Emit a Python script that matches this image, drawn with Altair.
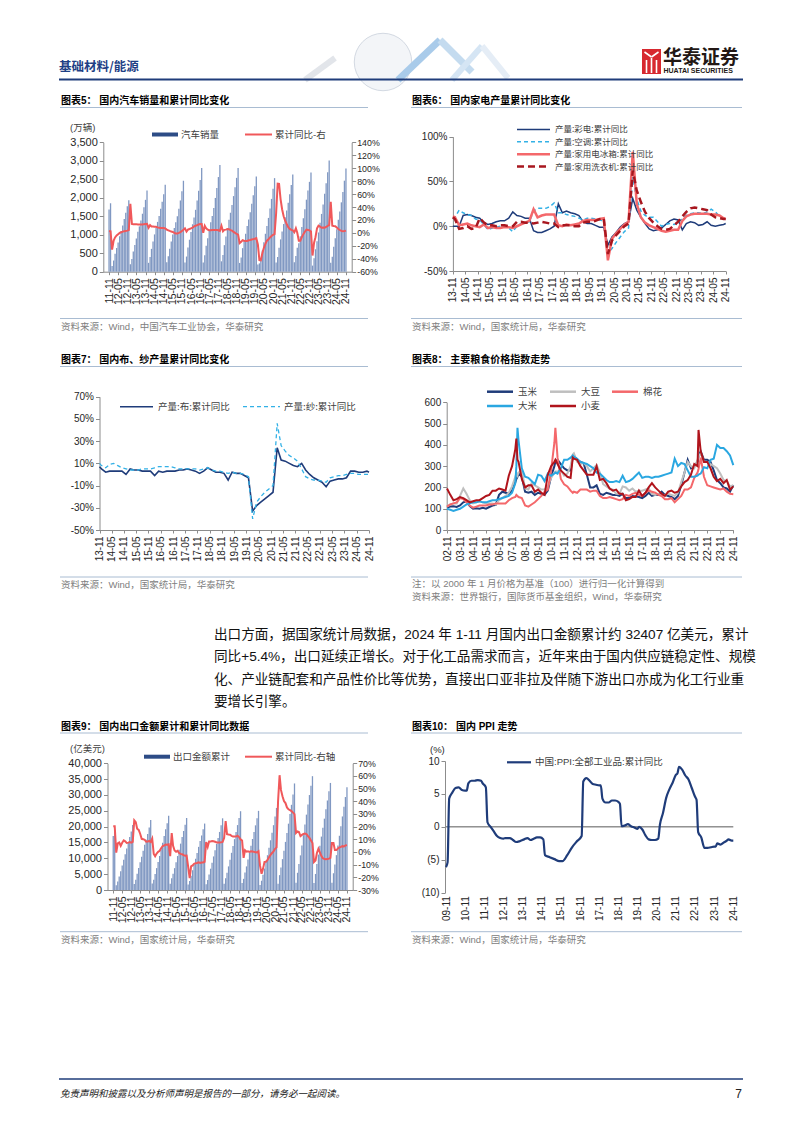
import altair as alt
import pandas as pd

W, H = 786, 1117
OX, OY = 8, 8

CJK = "Noto Sans CJK SC"
LAT = "Liberation Sans"
MIX = "Liberation Sans, Noto Sans CJK SC"

AX = "#8C8C8C"
LBL = "#262626"
RULE = "#A9BCD2"
SRC = "#808080"
LEG = "#404040"
NAVY = "#1F3C7A"
HDR_BLUE = "#1E3F85"
RED = "#F0585A"
BAR = "#8098C2"
BAR_LEG = "#2D4C86"
LBLUE = "#33B1E6"
SALMON = "#F4686B"
DRED = "#A8171F"
GRAY = "#BFBFBF"
RICE = "#2AA7E1"
WHEAT = "#B0141C"

# ---------------------------------------------------------------- data
# 图表5 汽车销量累计（万辆）2011-11 .. 2024-11 and 累计同比 (%)
c5_sales = [
    1684, 1851,
    151, 302, 486, 641, 792, 960, 1098, 1251, 1424, 1592, 1769, 1931,
    203, 343, 546, 723, 899, 1078, 1226, 1385, 1568, 1744, 1944, 2198,
    240, 398, 618, 817, 1009, 1187, 1347, 1506, 1700, 1892, 2096, 2349,
    253, 419, 618, 818, 1007, 1185, 1336, 1502, 1704, 1927, 2177, 2460,
    251, 410, 653, 865, 1074, 1283, 1467, 1674, 1929, 2189, 2483, 2803,
    252, 446, 700, 908, 1110, 1335, 1505, 1724, 1995, 2263, 2560, 2888,
    281, 453, 718, 949, 1178, 1406, 1595, 1805, 2045, 2283, 2538, 2808,
    237, 385, 637, 835, 1026, 1233, 1413, 1610, 1837, 2066, 2311, 2577,
    194, 225, 368, 575, 794, 1026, 1237, 1455, 1712, 1969, 2247, 2531,
    250, 396, 649, 874, 1087, 1289, 1475, 1654, 1862, 2096, 2348, 2628,
    253, 427, 650, 769, 956, 1206, 1448, 1687, 1948, 2198, 2431, 2686,
    165, 362, 607, 823, 1061, 1324, 1563, 1821, 2107, 2392, 2689, 3009,
    244, 403, 672, 907, 1149, 1405, 1631, 1876, 2157, 2462, 2794,
]
c5_yoy = [
    3.0, 2.5,
    -26, -12, -7, -4, -2, 0, 1, 2, 2.5, 3, 3.5, 4.3,
    45, 14, 13.5, 13.5, 13.5, 13, 13, 13, 13, 13.5, 13.8, 13.9,
    8, 12, 10, 10, 9.5, 9.5, 8.5, 8, 7.5, 7.5, 7.5, 6.9,
    5, 4, 3, 2, 1.5, 0, -0.8, -0.8, 0, 1, 3, 4.7,
    7, 2, 5, 6, 7, 8, 10, 11, 12, 13, 13.8, 13.7,
    0.2, 11, 7, 5, 4, 4, 4.5, 4.5, 4.5, 4.5, 4, 3,
    11, 2.5, 4.7, 5, 5.8, 5.6, 4.2, 3.5, 1.5, 0.1, -1.7, -2.8,
    -15.8, -13.8, -11.3, -12.1, -12.4, -12.4, -11.4, -11, -10.3, -9.7, -9.1, -8.2,
    -18, -42, -42.4, -31, -23, -17, -12, -10, -7, -5, -3, -1.9,
    30, 76, 75.6, 51.8, 36.6, 25.6, 19, 13.7, 8.7, 6.1, 4.6, 3.8,
    0.9, 7.2, 0.1, -12.1, -12.2, -6.6, -2, 1.8, 5.1, 4.6, 3.8, 2.1,
    -35, -15.2, -6.7, 7.1, 11.1, 9.8, 7.9, 8.2, 8, 9.1, 10.8, 12,
    47.9, 11.1, 10.6, 10.2, 8.3, 6.1, 4.4, 3, 2.4, 2.7, 3.5,
]

# 图表6 家电产量累计同比 (%), dates 2013-11, 2013-12, then even months .. 2024-10, 2024-11
c6_tv = [0, 0,
         0, 12, 13, 12, 10, 9,
         4, 2, 3, 5, 6, 6,
         9, 16, 12, 11, 9, 9,
         -5, -7, -7, -5, -3, 0,
         25, 15, 17, 15, 14, 12,
         5, 3, 3, 1, -1, -1,
         -21, -12, -7, -1, 3, 5,
         31, 18, 10, 3, -3, -5,
         -4, -2, 2, 6, 8, 7,
         -4, 3, 5, 4, 1, 2,
         5, 1, 0, 1, 2, 3]
c6_ac = [8, 10,
         18, 15, 13, 12, 8, 7,
         2, -4, -2, -1, 0, 1,
         -2, -6, 0, 3, 4, 5,
         17, 20, 20, 20, 22, 26,
         15, 15, 13, 12, 11, 9,
         7, 9, 9, 8, 7, 6,
         -30, -25, -18, -12, -6, -2,
         55, 30, 17, 12, 10, 10,
         5, 0, 2, 3, 2, 3,
         9, 12, 14, 15, 15, 14,
         16, 19, 16, 11, 8, 8]
c6_fridge = [11, 10,
             1, 2, 3, 1, 0, -1,
             2, -2, -1, -2, -2, -1,
             -1, -2, 0, 2, 4, 6,
             19, 10, 12, 13, 13, 13,
             1, 0, 2, 1, 2, 3,
             6, 7, 7, 7, 8, 9,
             -38, -14, -8, -3, 2, 5,
             83, 25, 10, 4, 1, -1,
             -3, -5, -6, -5, -4, -4,
             6, 11, 13, 14, 14, 14,
             14, 13, 13, 12, 9, 8]
c6_washer = [10, 8,
             -3, -2, 0, -3, -2, 9,
             4, 1, 1, 0, 1, 1,
             0, 0, 5, 5, 4, 4,
             3, 4, 5, 4, 3, 3,
             -1, 1, 1, 1, 0, 0,
             4, 5, 5, 6, 8, 9,
             -31, -16, -10, -5, 0, 3,
             62, 40, 27, 16, 9, 4,
             0, -3, -4, -3, 1, 5,
             11, 16, 20, 21, 20, 19,
             18, 13, 10, 9, 8, 8]

# 图表7 布、纱产量累计同比 (%), same dates as 图表6
c7_cloth = [7, 5,
            2, 3, 3, 3, 3, 0,
            5, 4, 4, 3, 3, 3,
            -1, 3, 2, 3, 3, 3,
            4, 4, 5, 4, 3, 1,
            3, 6, 4, 2, 2, 1,
            -5, 2, 1, 1, -1, -3,
            -33, -28, -25, -22, -19, -16,
            24, 13, 12, 10, 8, 7,
            10, 4, 0, -3, -5, -7,
            -11, -6, -5, -4, -4, -3,
            3, 3, 2, 2, 3, 2]
c7_yarn = [10, 8,
           6, 9, 10, 8, 6, 5,
           4, 4, 4, 5, 5, 5,
           6, 7, 7, 7, 7, 6,
           5, 5, 5, 5, 5, 4,
           5, 6, 4, 3, 3, 2,
           1, 2, 1, 1, 0, -2,
           -40, -25, -20, -16, -13, -10,
           46, 26, 21, 17, 15, 12,
           5, -2, -4, -5, -5, -6,
           -7, -3, -2, -1, -1, 0,
           1, 1, 0, 0, 0, 0]

# 图表8 主要粮食价格指数
c8_dates = ["2002-11", "2003-02", "2003-05", "2003-08", "2003-11", "2004-02", "2004-05", "2004-08",
            "2004-11", "2005-02", "2005-05", "2005-08", "2005-11", "2006-02", "2006-05", "2006-08",
            "2006-11", "2007-02", "2007-05", "2007-08", "2007-11", "2008-02", "2008-03", "2008-04",
            "2008-05", "2008-08", "2008-11", "2009-02", "2009-05", "2009-08", "2009-11", "2010-02",
            "2010-05", "2010-08", "2010-11", "2011-02", "2011-03", "2011-05", "2011-08", "2011-11",
            "2012-02", "2012-05", "2012-07", "2012-08", "2012-11", "2013-02", "2013-05", "2013-08",
            "2013-11", "2014-02", "2014-05", "2014-08", "2014-11", "2015-02", "2015-05", "2015-08",
            "2015-11", "2016-02", "2016-05", "2016-08", "2016-11", "2017-02", "2017-05", "2017-08",
            "2017-11", "2018-02", "2018-05", "2018-08", "2018-11", "2019-02", "2019-05", "2019-08",
            "2019-11", "2020-02", "2020-05", "2020-08", "2020-11", "2021-02", "2021-05", "2021-08",
            "2021-11", "2022-02", "2022-03", "2022-05", "2022-08", "2022-11", "2023-02", "2023-05",
            "2023-08", "2023-11", "2024-02", "2024-05", "2024-08", "2024-11"]
c8_corn = [105, 110, 112, 108, 115, 130, 135, 112, 100, 102,
           100, 104, 100, 108, 115, 118, 165, 180, 175, 170,
           185, 225, 240, 250, 265, 250, 180, 175, 180, 165,
           175, 170, 165, 185, 250, 300, 320, 330, 310, 290,
           280, 280, 340, 350, 330, 320, 315, 260, 200, 200,
           210, 170, 165, 175, 170, 165, 165, 160, 170, 150,
           150, 160, 158, 155, 150, 160, 175, 160, 165, 165,
           180, 165, 160, 155, 145, 160, 210, 270, 330, 290,
           300, 320, 345, 370, 330, 330, 320, 280, 235, 220,
           200, 195, 180, 210]
c8_soy = [110, 120, 125, 125, 160, 195, 170, 140, 125, 130,
          135, 130, 125, 125, 125, 120, 140, 150, 160, 175,
          205, 250, 265, 255, 270, 280, 195, 190, 220, 210,
          200, 190, 190, 205, 245, 270, 275, 275, 280, 255,
          265, 300, 355, 360, 320, 310, 315, 300, 275, 290,
          305, 270, 215, 205, 195, 190, 170, 170, 205, 200,
          185, 195, 180, 185, 185, 190, 195, 170, 165, 170,
          160, 165, 170, 165, 160, 175, 225, 270, 320, 300,
          290, 330, 345, 360, 320, 320, 310, 300, 290, 265,
          235, 230, 205, 210]
c8_cotton = [110, 120, 125, 130, 150, 145, 130, 115, 105, 110,
             115, 115, 115, 120, 120, 125, 125, 125, 125, 140,
             150, 155, 165, 160, 155, 150, 115, 110, 120, 130,
             145, 160, 180, 190, 280, 410, 480, 340, 240, 215,
             205, 185, 175, 180, 175, 190, 190, 190, 180, 185,
             185, 160, 150, 150, 155, 150, 145, 140, 145, 165,
             160, 170, 175, 165, 160, 175, 185, 180, 175, 165,
             160, 145, 145, 150, 130, 145, 160, 190, 190, 200,
             245, 270, 285, 340, 250, 210, 205, 200, 195, 190,
             195, 180, 170, 168]
c8_rice = [100, 95, 90, 95, 100, 110, 120, 125, 130, 130,
           135, 130, 130, 135, 140, 140, 145, 150, 155, 160,
           175, 220, 300, 480, 420, 290, 250, 245, 230, 215,
           260, 255, 230, 265, 255, 265, 270, 265, 290, 330,
           330, 340, 350, 345, 335, 320, 315, 310, 300, 290,
           270, 265, 250, 235, 225, 225, 230, 225, 255, 225,
           230, 240, 255, 270, 245, 250, 250, 245, 250, 250,
           255, 260, 265, 270, 335, 300, 315, 310, 280, 250,
           250, 255, 260, 265, 295, 290, 330, 335, 400, 385,
           385, 370, 350, 305]
c8_wheat = [195, 165, 140, 145, 155, 150, 140, 130, 135, 140,
            140, 150, 160, 165, 185, 185, 195, 190, 185, 255,
            300, 380, 430, 330, 320, 240, 200, 210, 210, 180,
            190, 175, 165, 260, 300, 320, 330, 310, 280, 265,
            250, 245, 340, 335, 330, 300, 280, 260, 260, 260,
            300, 235, 240, 220, 195, 185, 190, 170, 170, 140,
            145, 155, 155, 185, 160, 175, 200, 220, 200, 185,
            170, 160, 180, 185, 175, 180, 205, 225, 235, 260,
            310, 300, 470, 370, 320, 320, 290, 250, 230, 240,
            220, 235, 190, 205]

# 图表9 出口金额累计（亿美元）2011-11 .. 2024-11 and 累计同比 (%)
c9_exports = [
    17086, 18984,
    1500, 2650, 4300, 5930, 7740, 9540, 11310, 13090, 14950, 16700, 18490, 20487,
    1873, 3266, 5091, 6962, 8791, 10531, 12391, 14298, 15858, 17709, 19728, 22090,
    2071, 3211, 5024, 6911, 8868, 10732, 12851, 14935, 17082, 19149, 21080, 23423,
    2003, 3700, 5138, 6896, 8800, 10722, 12673, 14640, 16699, 18626, 20596, 22735,
    1772, 2869, 4514, 6242, 8057, 9867, 11711, 13619, 15457, 17214, 19154, 20976,
    1830, 3120, 4925, 6725, 8640, 10600, 12540, 14525, 16430, 18330, 20420, 22635,
    2004, 3714, 5450, 7454, 9579, 11741, 13893, 16060, 18322, 20495, 22741, 24874,
    2175, 3527, 5516, 7455, 9595, 11732, 13952, 16098, 18284, 20411, 22624, 24990,
    1600, 2927, 4780, 6787, 8850, 10984, 13357, 15701, 18097, 20466, 23189, 25900,
    2000, 4690, 7106, 9744, 12377, 15191, 17997, 20940, 23994, 26898, 30148, 33640,
    2300, 5436, 8203, 10937, 14011, 17320, 20651, 23795, 26992, 29976, 32937, 35936,
    2200, 5064, 8218, 11172, 14009, 16863, 19677, 22524, 25518, 28260, 31182, 33800,
    2300, 5287, 8081, 11005, 14031, 17120, 20135, 23221, 26260, 29351, 32407,
]
c9_yoy = [
    20.3, 20.3,
    -0.5, 6.9, 7.6, 4.9, 7.3, 9.2, 8.4, 7.1, 7.4, 7.8, 7.3, 7.9,
    25, 23.6, 18.4, 17.4, 14.4, 10.4, 10.1, 9.6, 8.1, 8.3, 8.7, 7.9,
    10.6, -1.6, -3.4, -1.2, 0.1, 0.9, 3.0, 4.7, 5.1, 5.9, 5.8, 6.1,
    -3.3, 15, 4.9, 1.2, 0.2, 0.9, -0.8, -1.5, -1.8, -2.5, -2.9, -2.8,
    -11.5, -20.6, -11.3, -10.6, -9.3, -8.8, -8.7, -8.1, -8.6, -8.3, -8.3, -7.7,
    7.9, 4, 8.2, 8.2, 8.6, 8.5, 8.1, 7.5, 7.5, 7.4, 7.6, 7.9,
    11.1, 24.4, 14.1, 13.8, 13.6, 12.8, 12.2, 12.2, 12.2, 12.9, 11.8, 9.9,
    9.1, -4.6, 1.4, 0.2, 0.5, 0.1, 0.6, 0.4, 0.1, -0.2, -0.3, 0.5,
    -11, -17.2, -13.3, -7.8, -7.7, -6.2, -4.1, -2.3, -0.8, 0.5, 2.5, 3.6,
    40, 60.6, 49, 44, 40.2, 38.6, 35.2, 33.7, 33, 32.3, 31.1, 29.9,
    15, 16.3, 15.8, 12.5, 13.5, 14.2, 14.6, 14.2, 12.5, 11.1, 9, 7,
    -8, -6.8, -0.8, 2.5, -0.3, -3.2, -5, -5.6, -5.7, -5.6, -5.2, -4.6,
    7.1, 7.1, 1.5, 1.5, 2.7, 3.6, 4, 4.6, 4.3, 5.1, 5.4,
]

# 图表10 PPI 全部工业品 累计同比 (%)
c10_dates = ["2009-11", "2009-12", "2010-01", "2010-03", "2010-05", "2010-07", "2010-09", "2010-11",
             "2010-12", "2011-01", "2011-03", "2011-05", "2011-07", "2011-09", "2011-10", "2011-12",
             "2012-01", "2012-03", "2012-05", "2012-07", "2012-09", "2012-11", "2012-12", "2013-03",
             "2013-05", "2013-07", "2013-09", "2013-12", "2014-02", "2014-04", "2014-06", "2014-08",
             "2014-10", "2014-12", "2015-01", "2015-04", "2015-07", "2015-10", "2015-12", "2016-03",
             "2016-06", "2016-09", "2016-12", "2017-01", "2017-03", "2017-05", "2017-07", "2017-09",
             "2017-11", "2017-12", "2018-01", "2018-03", "2018-05", "2018-07", "2018-09", "2018-11",
             "2018-12", "2019-01", "2019-03", "2019-05", "2019-07", "2019-09", "2019-11", "2019-12",
             "2020-02", "2020-04", "2020-06", "2020-08", "2020-10", "2020-12", "2021-01", "2021-03",
             "2021-05", "2021-07", "2021-09", "2021-11", "2021-12", "2022-01", "2022-03", "2022-05",
             "2022-07", "2022-09", "2022-11", "2022-12", "2023-01", "2023-03", "2023-05", "2023-07",
             "2023-09", "2023-11", "2023-12", "2024-01", "2024-03", "2024-05", "2024-07", "2024-08",
             "2024-10", "2024-11"]
c10_ppi = [-6.1, -5.4, 4.3, 5.2, 5.9, 6.0, 5.6, 5.5,
           5.5, 6.6, 7.0, 7.0, 7.1, 7.0, 6.6, 6.0,
           0.7, 0.0, -0.7, -1.4, -1.7, -1.8, -1.7, -1.7,
           -2.0, -2.3, -2.2, -1.9, -1.7, -2.0, -1.8, -1.6,
           -1.6, -1.9, -4.3, -4.6, -4.9, -5.2, -5.2, -4.3,
           -3.1, -2.2, -1.4, 6.9, 7.4, 7.0, 6.5, 6.4,
           6.3, 6.3, 4.3, 3.7, 3.7, 4.0, 4.0, 3.8,
           3.5, 0.1, 0.2, 0.4, 0.1, -0.1, -0.3, 0.0,
           -0.4, -1.3, -1.9, -2.0, -2.0, -1.8, 0.3, 2.1,
           4.4, 5.7, 6.7, 7.9, 8.1, 9.1, 8.7, 7.8,
           7.2, 5.9, 4.6, 4.1, -0.8, -1.6, -3.2, -3.2,
           -3.1, -3.0, -3.0, -2.5, -2.7, -2.4, -2.1, -1.9,
           -2.1, -2.1]

# text content
titles = ["图表5：  国内汽车销量和累计同比变化", "图表6：  国内家电产量累计同比变化",
          "图表7：  国内布、纱产量累计同比变化", "图表8：  主要粮食价格指数走势",
          "图表9：  国内出口金额累计和累计同比数据", "图表10：  国内 PPI 走势"]
sources = ["资料来源：Wind，中国汽车工业协会，华泰研究", "资料来源：Wind，国家统计局，华泰研究",
           "资料来源：Wind，国家统计局，华泰研究", "资料来源：世界银行，国际货币基金组织，Wind，华泰研究",
           "资料来源：Wind，国家统计局，华泰研究", "资料来源：Wind，国家统计局，华泰研究"]
para = ["出口方面，据国家统计局数据，2024 年 1-11 月国内出口金额累计约 32407 亿美元，累计",
        "同比+5.4%，出口延续正增长。对于化工品需求而言，近年来由于国内供应链稳定性、规模",
        "化、产业链配套和产品性价比等优势，直接出口亚非拉及伴随下游出口亦成为化工行业重",
        "要增长引擎。"]
leg6 = ["产量:彩电:累计同比", "产量:空调:累计同比", "产量:家用电冰箱:累计同比", "产量:家用洗衣机:累计同比"]
leg7 = ["产量:布:累计同比", "产量:纱:累计同比"]
leg8 = ["玉米", "大豆", "棉花", "大米", "小麦"]


# ---------------------------------------------------------------- helpers
def X(p):
    return p - OX


def Y(p):
    return p - OY


def months(y0, m0, y1, m1, step=1):
    out = []
    y, m = y0, m0
    while y * 12 + m <= y1 * 12 + m1:
        out.append((y, m))
        m += step
        while m > 12:
            m -= 12
            y += 1
    return out


def ds(ym):
    return f"{ym[0]}/{ym[1]:02d}/01"


def parse_ym(s):
    a, b = s.split("-")
    return int(a), int(b)


def dt(y, m, d=1):
    return alt.DateTime(year=y, month=m, date=d)


ONE = pd.DataFrame({"k": [0]})


def text(s, x, y, size, color="#000000", font=CJK, weight="normal", align="left", style="normal"):
    return alt.Chart(ONE).mark_text(text=s, fontSize=size, color=color, font=font, fontWeight=weight,
                                    align=align, baseline="middle", fontStyle=style).encode(
        x=alt.value(X(x)), y=alt.value(Y(y)))


def seg(x0, y0, x1, y1, color, width=1.0, dash=None, opacity=1.0):
    kw = dict(color=color, strokeWidth=width, opacity=opacity)
    if dash:
        kw["strokeDash"] = dash
    return alt.Chart(ONE).mark_rule(**kw).encode(
        x=alt.value(X(x0)), x2=alt.value(X(x1)), y=alt.value(Y(y0)), y2=alt.value(Y(y1)))


def hline(x0, x1, y, color, width=1.0, dash=None):
    return seg(x0, y, x1, y, color, width, dash)


def rect(x0, x1, y0, y1, color):
    return alt.Chart(ONE).mark_rect(color=color).encode(
        x=alt.value(X(x0)), x2=alt.value(X(x1)), y=alt.value(Y(y0)), y2=alt.value(Y(y1)))


def xenc(field, d0, d1, x0, x1, ypos, ticks, fs=10.5, domain=True, tick=True):
    return alt.X(f"{field}:T",
                 scale=alt.Scale(domain=[d0, d1], range=[X(x0), X(x1)], nice=False),
                 axis=alt.Axis(orient="bottom", offset=Y(ypos) - H,
                               values=[dt(y, m) for (y, m) in ticks], format="%y-%m",
                               labelAngle=270, labelFont=LAT, labelFontSize=fs, labelColor=LBL,
                               labelOverlap=False, labelFlush=False, labelPadding=3,
                               domain=domain, domainColor=AX, ticks=tick, tickColor=AX, tickSize=3,
                               grid=False, title=None))


def yenc(field, lo, hi, y0, y1, orient, xpos, values, fs=10.5, fmt=None, expr=None, pad=2):
    ax = dict(orient=orient, values=values, grid=False, title=None, domainColor=AX, tickColor=AX,
              tickSize=4, labelFont=LAT, labelFontSize=fs, labelColor=LBL, labelPadding=pad,
              labelOverlap=False)
    ax["offset"] = -X(xpos) if orient == "left" else X(xpos) - W
    if fmt:
        ax["format"] = fmt
    if expr:
        ax["labelExpr"] = expr
    return alt.Y(f"{field}:Q",
                 scale=alt.Scale(domain=[lo, hi], range=[Y(y0), Y(y1)], nice=False, zero=False),
                 axis=alt.Axis(**ax))


def line(df, xe, ye, color, width, dash=None, interp="linear"):
    kw = dict(color=color, strokeWidth=width, interpolate=interp)
    if dash:
        kw["strokeDash"] = dash
    return alt.Chart(df).mark_line(**kw).encode(x=xe, y=ye)


PCT = "datum.value + '%'"
layers = []

# ---------------------------------------------------------------- header
layers.append(alt.Chart(ONE).mark_point(shape="circle", size=3300, filled=True, color="#F3F5F8",
                                        stroke="#D3D9E2", strokeWidth=1, opacity=1).encode(
    x=alt.value(X(383)), y=alt.value(Y(62))))
layers += [
    seg(305, 80, 335, 58, "#E2E5EA", 6),
    seg(398, 80, 440, 40, "#A9CBEA", 7),
    seg(440, 40, 472, 72, "#C4DBEF", 7),
    seg(452, 80, 482, 46, "#D5E5F4", 6),
    seg(482, 46, 508, 78, "#E5EDF6", 6),
]
layers.append(text("基础材料/能源", 59, 66.5, 12.5, HDR_BLUE, CJK, "bold"))
layers.append(hline(59, 743, 79.5, NAVY, 2.2))
layers.append(rect(642, 661, 49, 74, "#D7282F"))
layers += [
    seg(646.5, 60, 646.5, 73, "#FFFFFF", 1.6),
    seg(651.5, 58, 651.5, 73, "#FFFFFF", 1.6),
    seg(656.5, 60, 656.5, 73, "#FFFFFF", 1.6),
    seg(644.5, 52, 651.5, 57, "#FFFFFF", 1.6),
    seg(658.5, 52, 651.5, 57, "#FFFFFF", 1.6),
]
layers.append(text("华泰证券", 663, 57.5, 19, "#231815", CJK, "bold"))
layers.append(text("HUATAI SECURITIES", 663.5, 70.5, 7, "#231815", LAT, "bold"))

# ---------------------------------------------------------------- panel frames
frames = [
    (61, 368, 101, 107.5, 318.5, 326.5),
    (412, 742, 101, 107.5, 318.5, 326.5),
    (61, 368, 360, 366.5, 577, 585),
    (412, 742, 360, 366.5, 577, 596.7),
    (61, 368, 726.7, 733, 931.7, 940),
    (412, 742, 726.7, 733, 931.7, 940),
]
for i, (x0, x1, ty, tr, sr, sy) in enumerate(frames):
    layers.append(text(titles[i], x0, ty, 10, "#000000", MIX, "bold"))
    layers.append(hline(x0 - 1, x1, tr, RULE, 1))
    layers.append(hline(x0 - 1, x1, sr, RULE, 1))
    layers.append(text(sources[i], x0, sy, 9.5, SRC, MIX))
layers.append(text("注：以 2000 年 1 月价格为基准（100）进行归一化计算得到", 412, 584.3, 9.5, SRC, MIX))

# ---------------------------------------------------------------- 图表5
m5 = months(2011, 11, 2024, 11)
df5 = pd.DataFrame({"date": [ds(m) for m in m5], "sales": c5_sales, "yoy": c5_yoy})
x5 = xenc("date", dt(2011, 10, 17), dt(2024, 11, 16), 103.3, 351.7, 271.7, months(2011, 11, 2024, 11, 6))
bars5 = alt.Chart(df5).mark_bar(size=1.3, color=BAR).encode(
    x=x5, y=yenc("sales", 0, 3500, 271.7, 142.3, "left", 103.3, list(range(0, 3501, 500)), fs=11,
                 fmt=",.0f"))
line5 = line(df5, x5, yenc("yoy", -60, 140, 271.7, 142.3, "right", 351.7, list(range(-60, 141, 20)),
                           fs=8.8, expr=PCT, pad=1), RED, 2)
layers.append(alt.layer(bars5, line5).resolve_scale(y="independent"))
layers.append(text("(万辆)", 70, 127.7, 9.5, LEG, MIX))
layers.append(rect(152, 178, 132.5, 136.5, BAR_LEG))
layers.append(text("汽车销量", 181, 134.5, 9.5, LEG))
layers.append(hline(245, 272, 134.5, RED, 2))
layers.append(text("累计同比-右", 275, 134.5, 9.5, LEG))

# ---------------------------------------------------------------- 图表6
grid67 = [(2013, 11), (2013, 12)] + [(y, m) for y in range(2014, 2025)
                                     for m in (2, 4, 6, 8, 10) + ((12,) if y < 2024 else (11,))]
df6 = pd.DataFrame({"date": [ds(m) for m in grid67], "tv": c6_tv, "ac": c6_ac,
                    "fr": c6_fridge, "wm": c6_washer})
x6 = xenc("date", dt(2013, 11), dt(2024, 11), 452.9, 725.7, 271, months(2013, 11, 2024, 11, 6), fs=10)


def y6(f):
    return yenc(f, -50, 100, 271, 136.7, "left", 452.9, [-50, 0, 50, 100], fs=10, expr=PCT)


p6 = alt.layer(
    line(df6, x6, y6("tv"), NAVY, 1.5),
    line(df6, x6, y6("ac"), LBLUE, 1.5, [4, 3]),
    line(df6, x6, y6("fr"), SALMON, 2.5),
    line(df6, x6, y6("wm"), DRED, 2.5, [7, 4]),
)
layers.append(p6)
leg6_style = [(NAVY, 1.5, None), (LBLUE, 1.5, [4, 3]), (SALMON, 2.5, None), (DRED, 2.5, [7, 4])]
for k, (lab, (c, w, d)) in enumerate(zip(leg6, leg6_style)):
    yy = 129.4 + 12.4 * k
    layers.append(hline(517, 550, yy, c, w, d))
    layers.append(text(lab, 555, yy, 8.5, LEG))

# ---------------------------------------------------------------- 图表7
df7 = pd.DataFrame({"date": [ds(m) for m in grid67], "cloth": c7_cloth, "yarn": c7_yarn})
x7 = xenc("date", dt(2013, 11), dt(2024, 11), 99.5, 369, 530, months(2013, 11, 2024, 11, 6), fs=10)


def y7(f):
    return yenc(f, -50, 70, 530, 396.7, "left", 99.5, list(range(-50, 71, 20)), fs=10, expr=PCT)


layers.append(alt.layer(line(df7, x7, y7("cloth"), NAVY, 1.6),
                        line(df7, x7, y7("yarn"), LBLUE, 1.3, [4, 3])))
layers.append(hline(120, 153, 406.7, NAVY, 1.6))
layers.append(text(leg7[0], 158, 406.7, 9.5, LEG))
layers.append(hline(243, 280, 406.7, LBLUE, 1.3, [4, 3]))
layers.append(text(leg7[1], 284, 406.7, 9.5, LEG))

# ---------------------------------------------------------------- 图表8
df8 = pd.DataFrame({"date": [ds(parse_ym(s)) for s in c8_dates], "corn": c8_corn, "soy": c8_soy,
                    "cotton": c8_cotton, "rice": c8_rice, "wheat": c8_wheat})
x8 = xenc("date", dt(2002, 11), dt(2024, 11), 447, 733.3, 530, months(2002, 11, 2024, 11, 12), fs=10)


def y8(f):
    return yenc(f, 0, 600, 530, 402.3, "left", 446.7, list(range(0, 601, 100)), fs=10)


c8_styles = [("corn", NAVY), ("soy", GRAY), ("cotton", SALMON), ("rice", RICE), ("wheat", WHEAT)]
layers.append(alt.layer(*[line(df8, x8, y8(f), c, 2) for f, c in c8_styles]))
leg8_pos = [(487, 391.7), (550, 391.7), (612, 391.7), (487, 406), (550, 406)]
for lab, (f, c), (lx, ly) in zip(leg8, c8_styles, leg8_pos):
    layers.append(hline(lx, lx + 26, ly, c, 2.5))
    layers.append(text(lab, lx + 31, ly, 9.5, LEG))

# ---------------------------------------------------------------- 图表9
df9 = pd.DataFrame({"date": [ds(m) for m in m5], "exp": c9_exports, "yoy": c9_yoy})
x9 = xenc("date", dt(2011, 10, 17), dt(2024, 11, 16), 107.5, 352.7, 890, months(2011, 11, 2024, 11, 6))
bars9 = alt.Chart(df9).mark_bar(size=1.3, color=BAR).encode(
    x=x9, y=yenc("exp", 0, 40000, 890, 763.3, "left", 107.5, list(range(0, 40001, 5000)), fs=11,
                 fmt=",.0f"))
line9 = line(df9, x9, yenc("yoy", -30, 70, 890, 763.3, "right", 352.7, list(range(-30, 71, 10)),
                           fs=8.8, expr=PCT, pad=1), RED, 2)
layers.append(alt.layer(bars9, line9).resolve_scale(y="independent"))
layers.append(text("(亿美元)", 70, 749, 9.5, LEG, MIX))
layers.append(rect(144, 170, 754.7, 758.7, BAR_LEG))
layers.append(text("出口金额累计", 173, 756.7, 9.5, LEG))
layers.append(hline(245, 272, 756.7, RED, 2))
layers.append(text("累计同比-右轴", 275, 756.7, 9.5, LEG))

# ---------------------------------------------------------------- 图表10
df10 = pd.DataFrame({"date": [ds(parse_ym(s)) for s in c10_dates], "ppi": c10_ppi})
x10 = xenc("date", dt(2009, 11), dt(2024, 11), 446, 733.3, 892.7, months(2009, 11, 2024, 11, 12),
           fs=10, domain=False, tick=False)
y10 = yenc("ppi", -10, 10, 892.7, 761, "left", 445, [-10, -5, 0, 5, 10], fs=10,
           expr="datum.value < 0 ? '(' + abs(datum.value) + ')' : '' + datum.value")
zero10 = alt.Chart(pd.DataFrame({"date": [ds((2009, 11))], "end": [ds((2024, 11))], "ppi": [0]})).mark_rule(
    color="#595959", strokeWidth=1).encode(x=x10, x2="end:T", y=y10)
layers.append(alt.layer(zero10, line(df10, x10, y10, NAVY, 2.2, interp="monotone")))
layers.append(text("(%)", 430, 749.8, 9.5, LBL, LAT))
layers.append(hline(507, 531, 762.3, NAVY, 2.2))
layers.append(text("中国:PPI:全部工业品:累计同比", 535, 762.3, 9.5, LEG, MIX))

# ---------------------------------------------------------------- paragraph & footer
for k, s in enumerate(para):
    layers.append(text(s, 214, 634.5 + 22.6 * k, 13.6, "#111111", MIX))
layers.append(hline(59, 743, 1079, NAVY, 1.5))
layers.append(text("免责声明和披露以及分析师声明是报告的一部分，请务必一起阅读。", 60, 1094, 9.5, "#222222", CJK,
                   style="italic"))
layers.append(text("7", 742, 1094, 12, "#222222", LAT, align="right"))

chart = alt.layer(*layers).resolve_scale(x="independent", y="independent").resolve_axis(
    x="independent", y="independent").properties(
    width=W, height=H, autosize=alt.AutoSizeParams(type="none"), padding=0).configure_view(strokeWidth=0)

chart.save("out.html", embed_options={"renderer": "svg", "actions": False})
